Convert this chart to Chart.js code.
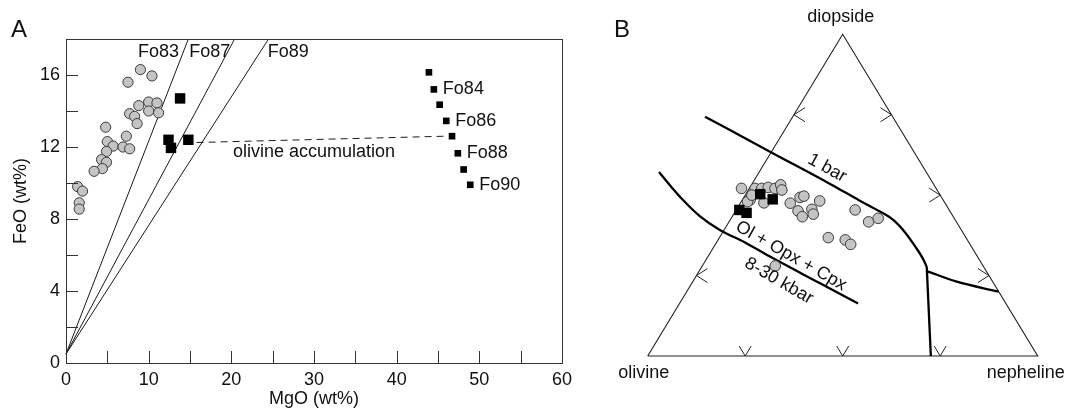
<!DOCTYPE html>
<html>
<head>
<meta charset="utf-8">
<script src="https://cdn.jsdelivr.net/npm/chart.js@4.4.1/dist/chart.umd.min.js"></script>
<style>
  body { margin: 0; background: #fff; }
  #wrap { position: relative; width: 1065px; height: 412px; overflow: hidden; }
  #chartA { position: absolute; left: 0; top: 0; }
  #chartB { position: absolute; left: 600px; top: 0; }
</style>
</head>
<body>
<div id="wrap">
  <canvas id="chartA" width="600" height="412"></canvas>
  <canvas id="chartB" width="465" height="412"></canvas>
</div>
<script>
// ---------- Panel A: FeO vs MgO (wt%) ----------
const meltMgO = [9.0, 10.4, 7.5, 10.0, 11.0, 10.0, 11.2, 8.8, 7.7, 8.3, 8.6, 4.8, 5.0, 5.7, 7.3, 6.9, 7.7, 4.9, 4.3, 4.9, 4.4, 3.4, 1.4, 2.0, 1.6, 1.6];
const meltFeO = [16.3, 15.95, 15.6, 14.5, 14.45, 14.0, 13.9, 14.3, 13.85, 13.7, 13.3, 13.1, 12.3, 12.05, 12.6, 12.0, 11.9, 11.75, 11.3, 11.15, 10.8, 10.65, 9.8, 9.55, 8.9, 8.55];

const primMgO = [13.8, 12.4, 12.7, 14.8];
const primFeO = [14.7, 12.4, 11.95, 12.4];

const oliMgO = [43.9, 44.5, 45.2, 46.0, 46.7, 47.4, 48.1, 48.9];
const oliFeO = [16.15, 15.2, 14.35, 13.45, 12.6, 11.65, 10.75, 9.9];
const oliNames = ['', 'Fo84', '', 'Fo86', '', 'Fo88', '', 'Fo90'];

// equilibrium olivine lines start near the origin and run to the top of the frame
const foNames = ['Fo83', 'Fo87', 'Fo89'];
const foStart = [0, 0.5];
const foTopMgO = [14.8, 20.4, 24.5];
const foLabelMgO = [8.7, 14.9, 24.4];
const foLabelFeO = 17.25;

const accumMgO = [15.8, 45.9];
const accumFeO = [12.25, 12.6];

const xTicks = [0, 10, 20, 30, 40, 50, 60];
const yTicks = [0, 4, 8, 12, 16];
const xMinor = [5, 10, 15, 20, 25, 30, 35, 40, 45, 50, 55];
const yMinor = [2, 4, 6, 8, 10, 12, 14, 16];

// ---------- Panel B: olivine - diopside - nepheline (wt% di, ne) ----------
const liqDi = [52.1, 52.1, 52.1, 52.4, 52.1, 53.2, 51.6, 48.5, 48.0, 47.6, 47.5, 49.3, 49.7, 48.2, 45.1, 43.3, 45.6, 44.1, 45.4, 41.7, 42.8, 36.8, 36.1, 34.7, 28.0, 50.0];
const liqNe = [-2.0, 1.5, 3.2, 4.7, 6.6, 7.5, 8.6, 2.0, 1.6, 6.0, 12.8, 14.4, 15.2, 20.0, 16.0, 18.0, 19.3, 20.4, 30.5, 35.8, 37.7, 27.9, 32.6, 34.7, 18.7, 1.7];

const primDi = [50.3, 48.7, 45.4, 44.5];
const primNe = [3.7, 7.7, 0.8, 3.1];

const oneBarDi = [74.4, 63.5, 53.5, 48.2, 44.9, 42.3, 38.5, 34.2, 30.2, 27.7, 0];
const oneBarNe = [-22.5, -0.4, 20.0, 30.4, 37.1, 41.8, 46.7, 51.4, 55.5, 57.7, 72.6];
const branchDi = [26.4, 23.1, 20.0];
const branchNe = [58.4, 67.7, 80.0];
const highPDi = [57.2, 52.8, 48.5, 43.5, 39.2, 35.3, 30.9, 22.6, 16.3];
const highPNe = [-25.7, -20.5, -15.2, -8.4, -1.1, 7.3, 15.9, 32.9, 45.8];

const cornerDi = [0, 100, 0, 0];
const cornerNe = [0, 0, 100, 0];

// chevrons on the joins
const olDiArrows = [25, 75];      // % di along ol-di
const diNeArrows = [25, 50, 75];  // % di along di-ne
const olNeArrows = [25, 50, 75];  // % ne along ol-ne

const FONT = '"Liberation Sans", Arial, Helvetica, sans-serif';
Chart.defaults.font.family = FONT;
Chart.defaults.font.size = 18;
Chart.defaults.color = '#111';

const pts = (xs, ys) => xs.map((v, i) => ({ x: v, y: ys[i] }));
const tern = (di, ne) => di.map((d, i) => ({ x: ne[i] + d / 2, y: d }));

const lineSet = (data, extra) => Object.assign({
  data, showLine: true, pointRadius: 0, borderColor: '#1a1a1a',
  borderWidth: 1, fill: false, clip: false
}, extra || {});

const frameA = {
  id: 'frameA',
  afterDatasetsDraw(chart) {
    const { ctx, chartArea: a, scales: { x, y } } = chart;
    ctx.save();
    ctx.strokeStyle = '#333';
    ctx.lineWidth = 1;
    ctx.strokeRect(a.left + 0.5, a.top + 0.5, a.right - a.left, a.bottom - a.top);
    ctx.beginPath();
    xMinor.forEach(v => {
      const px = Math.round(x.getPixelForValue(v)) + 0.5;
      ctx.moveTo(px, a.bottom); ctx.lineTo(px, a.bottom - 12);
    });
    yMinor.forEach(v => {
      const py = Math.round(y.getPixelForValue(v)) + 0.5;
      ctx.moveTo(a.left, py); ctx.lineTo(a.left + 12, py);
    });
    ctx.stroke();

    ctx.fillStyle = '#111';
    ctx.font = '18px ' + FONT;
    ctx.textBaseline = 'middle';
    ctx.textAlign = 'left';
    foNames.forEach((n, i) => {
      ctx.fillText(n, x.getPixelForValue(foLabelMgO[i]), y.getPixelForValue(foLabelFeO));
    });
    oliNames.forEach((n, i) => {
      if (!n) return;
      ctx.fillText(n, x.getPixelForValue(oliMgO[i]) + 9, y.getPixelForValue(oliFeO[i]));
    });
    ctx.textAlign = 'center';
    ctx.fillText('olivine accumulation', x.getPixelForValue(30), y.getPixelForValue(11.7));

    ctx.font = '24px ' + FONT;
    ctx.textAlign = 'left';
    ctx.fillText('A', 11, 30);
    ctx.restore();
  }
};

new Chart(document.getElementById('chartA'), {
  type: 'scatter',
  data: {
    datasets: [
      { data: pts(oliMgO, oliFeO), pointStyle: 'rect', pointRadius: 4.7, backgroundColor: '#000', borderWidth: 0 },
      { data: pts(primMgO, primFeO), pointStyle: 'rect', pointRadius: 7.4, backgroundColor: '#000', borderWidth: 0 },
      { data: pts(meltMgO, meltFeO), pointStyle: 'circle', pointRadius: 5.1, backgroundColor: '#c4c4c4', borderColor: '#3a3a3a', borderWidth: 1 },
      lineSet(pts(accumMgO, accumFeO), { borderDash: [7, 5] }),
      ...foTopMgO.map(m => lineSet([{ x: foStart[0], y: foStart[1] }, { x: m, y: 18 }]))
    ]
  },
  options: {
    responsive: false,
    animation: false,
    events: [],
    layout: { padding: { left: 0, top: 39, right: 38, bottom: 0 } },
    plugins: { legend: { display: false }, tooltip: { enabled: false } },
    scales: {
      x: {
        type: 'linear', min: 0, max: 60,
        afterBuildTicks: s => { s.ticks = xTicks.map(v => ({ value: v })); },
        afterFit: s => { s.height = 49; },
        ticks: { padding: 6, maxRotation: 0 },
        grid: { display: false, drawTicks: false },
        border: { display: false },
        title: { display: true, text: 'MgO (wt%)', padding: { top: 0, bottom: 2 } }
      },
      y: {
        type: 'linear', min: 0, max: 18,
        afterBuildTicks: s => { s.ticks = yTicks.map(v => ({ value: v })); },
        afterFit: s => { s.width = 66; },
        ticks: { padding: 6 },
        grid: { display: false, drawTicks: false },
        border: { display: false },
        title: { display: true, text: 'FeO (wt%)', padding: { top: 10, bottom: 0 } }
      }
    }
  },
  plugins: [frameA]
});

// ---------- Panel B ----------
const ternaryDecor = {
  id: 'ternaryDecor',
  afterDatasetsDraw(chart) {
    const { ctx, scales: { x, y } } = chart;
    const px = (di, ne) => [x.getPixelForValue(ne + di / 2), y.getPixelForValue(di)];
    ctx.save();
    ctx.strokeStyle = '#222';
    ctx.lineWidth = 1;
    ctx.beginPath();
    const chevron = (tip, a1, a2) => {
      ctx.moveTo(tip[0] + a1[0], tip[1] + a1[1]);
      ctx.lineTo(tip[0], tip[1]);
      ctx.lineTo(tip[0] + a2[0], tip[1] + a2[1]);
    };
    olDiArrows.forEach(p => chevron(px(p, 0), [11, -7], [11, 7]));
    diNeArrows.forEach(p => chevron(px(p, 100 - p), [-11, -7], [-11, 7]));
    olNeArrows.forEach(p => chevron(px(0, p), [-6, -10], [6, -10]));
    ctx.stroke();

    ctx.fillStyle = '#111';
    ctx.font = '18px ' + FONT;
    ctx.textBaseline = 'middle';
    ctx.textAlign = 'center';
    let p = px(100, 0);
    ctx.fillText('diopside', p[0] - 2, p[1] - 17);
    p = px(0, 0);
    ctx.fillText('olivine', p[0] - 4, p[1] + 17);
    p = px(0, 100);
    ctx.fillText('nepheline', p[0] - 12, p[1] + 17);

    const rotated = (t, di, ne, deg) => {
      const q = px(di, ne);
      ctx.save();
      ctx.translate(q[0], q[1]);
      ctx.rotate(deg * Math.PI / 180);
      ctx.fillText(t, 0, 0);
      ctx.restore();
    };
    rotated('1 bar', 58.4, 16.8, 29);
    rotated('Ol + Opx + Cpx', 31.1, 21.2, 29.5);
    rotated('8-30 kbar', 23.3, 22.0, 30);

    ctx.font = '24px ' + FONT;
    ctx.textAlign = 'left';
    ctx.fillText('B', 14, 30);
    ctx.restore();
  }
};

// cotectics: x increases along each curve, so monotone splines keep them smooth
const curve = data => lineSet(data, { borderWidth: 2.3, borderColor: '#000', cubicInterpolationMode: 'monotone' });

new Chart(document.getElementById('chartB'), {
  type: 'scatter',
  data: {
    datasets: [
      { data: tern(primDi, primNe), pointStyle: 'rect', pointRadius: 7.4, backgroundColor: '#000', borderWidth: 0, clip: false },
      { data: tern(liqDi, liqNe), pointStyle: 'circle', pointRadius: 5.3, backgroundColor: '#c4c4c4', borderColor: '#3a3a3a', borderWidth: 1, clip: false },
      curve(tern(oneBarDi.slice(0, 10), oneBarNe.slice(0, 10))),
      lineSet(tern(oneBarDi.slice(9), oneBarNe.slice(9)), { borderWidth: 2.3, borderColor: '#000' }),
      curve(tern(branchDi, branchNe)),
      curve(tern(highPDi, highPNe)),
      lineSet(tern(cornerDi, cornerNe), { borderWidth: 1.1, borderColor: '#222' })
    ]
  },
  options: {
    responsive: false,
    animation: false,
    events: [],
    layout: { padding: { left: 47.7, right: 27.3, top: 34.3, bottom: 56 } },
    plugins: { legend: { display: false }, tooltip: { enabled: false } },
    scales: {
      x: { type: 'linear', min: 0, max: 100, display: false },
      y: { type: 'linear', min: 0, max: 100, display: false }
    }
  },
  plugins: [ternaryDecor]
});
</script>
</body>
</html>
